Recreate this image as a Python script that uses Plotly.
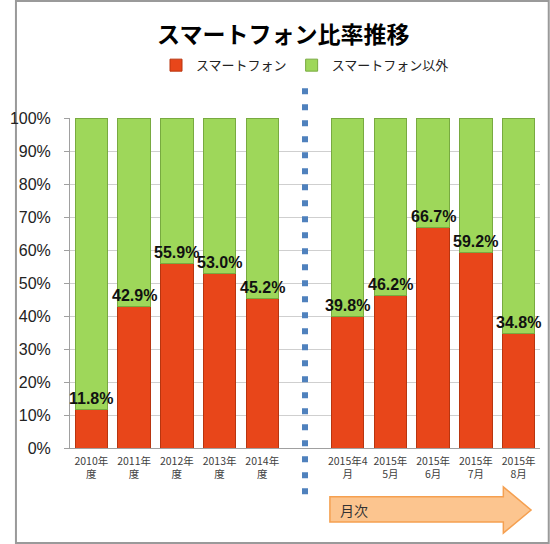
import plotly.graph_objects as go

# ---- data ----
categories = ["2010年<br>度", "2011年<br>度", "2012年<br>度", "2013年<br>度", "2014年<br>度", "",
              "2015年4<br>月", "2015年<br>5月", "2015年<br>6月", "2015年<br>7月", "2015年<br>8月"]
smartphone = [11.8, 42.9, 55.9, 53.0, 45.2, None, 39.8, 46.2, 66.7, 59.2, 34.8]
other = [88.2, 57.1, 44.1, 47.0, 54.8, None, 60.2, 53.8, 33.3, 40.8, 65.2]
series_names = ["スマートフォン", "スマートフォン以外"]
y_ticks = [0, 10, 20, 30, 40, 50, 60, 70, 80, 90, 100]
y_tick_labels = [f"{v}%" for v in y_ticks]
title_text = "スマートフォン比率推移"
arrow_text = "月次"

xpos = list(range(len(categories)))
JP = "Noto Sans CJK JP"

fig = go.Figure()
fig.add_trace(go.Bar(x=xpos, y=smartphone, name=series_names[0],
                     marker=dict(color="#e8461a", line=dict(color="#b8350f", width=1))))
fig.add_trace(go.Bar(x=xpos, y=other, name=series_names[1],
                     marker=dict(color="#9ed75a", line=dict(color="#78aa40", width=1))))

for xi, v in zip(xpos, smartphone):
    if v is None:
        continue
    fig.add_annotation(x=xi, y=v, text=f"<b>{v:.1f}%</b>", showarrow=False,
                       yanchor="middle", yshift=11,
                       font=dict(family="Liberation Sans", size=16, color="#111"))

# dotted separator
fig.add_shape(type="line", xref="x", yref="paper", x0=5, x1=5, y0=1.09, y1=-0.168,
              line=dict(color="#4f81bd", width=6, dash="6px,10px"))

# arrow
x0, xh, x1 = 0.553, 0.922, 0.981
yt, ybt, ybb, yb, ym = -0.118, -0.148, -0.224, -0.258, -0.188
path = (f"M {x0},{ybt} L {xh},{ybt} L {xh},{yt} L {x1},{ym} L {xh},{yb} "
        f"L {xh},{ybb} L {x0},{ybb} Z")
fig.add_shape(type="path", xref="paper", yref="paper", path=path,
              fillcolor="#fcc58f", line=dict(color="#f5a050", width=1.5))
fig.add_annotation(xref="paper", yref="paper", x=0.571, y=ym, text=arrow_text,
                   showarrow=False, xanchor="left", yanchor="middle",
                   font=dict(family=JP, size=14, color="#333"))

# outer frame
fig.add_shape(type="rect", xref="paper", yref="paper", x0=-0.115, x1=1.0186,
              y0=-0.288, y1=1.3545, line=dict(color="#9a9a9a", width=2), layer="below")

fig.update_layout(
    width=550, height=544,
    margin=dict(l=57, r=10, t=118, b=96),
    paper_bgcolor="white", plot_bgcolor="white",
    barmode="stack", bargap=0.24,
    title=dict(text=f"<b>{title_text}</b>", x=0.515, xanchor="center", y=0.935, yanchor="middle",
               font=dict(family=JP, size=23, color="#000")),
    legend=dict(orientation="h", x=0.5, xanchor="center", y=1.16, yanchor="middle",
                font=dict(family=JP, size=13, color="#222"), traceorder="normal",
                itemwidth=30),
    showlegend=True,
    xaxis=dict(tickmode="array", tickvals=xpos, ticktext=categories, range=[-0.5, 10.5],
               showline=True, linecolor="#a0a0a0", ticks="outside", ticklen=3,
               tickcolor="rgba(0,0,0,0)", showgrid=False,
               tickfont=dict(family=JP, size=10.5, color="#404040")),
    yaxis=dict(tickmode="array", tickvals=y_ticks, ticktext=y_tick_labels, range=[0, 100],
               showline=True, linecolor="#a0a0a0", ticks="outside", ticklen=5,
               tickcolor="#a0a0a0", gridcolor="#cfcfcf", gridwidth=1,
               ticklabelstandoff=10,
               tickfont=dict(family="Liberation Sans", size=16, color="#222")),
)

fig.write_html("out.html", config={"displayModeBar": False},
               post_script="document.body.style.margin='0';")
